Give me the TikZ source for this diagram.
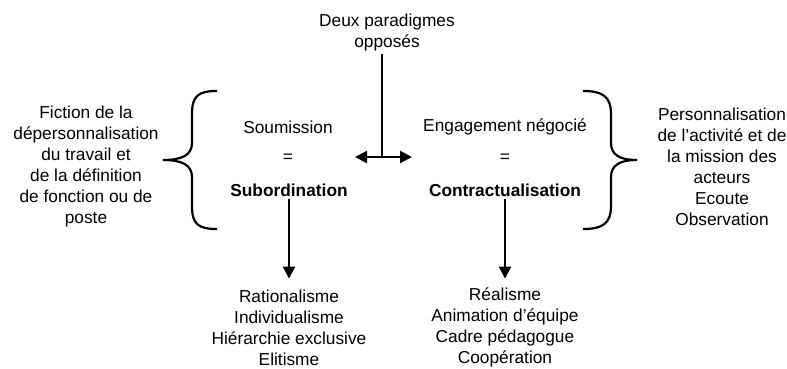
\documentclass[tikz,border=0pt]{standalone}
\usepackage{fontspec}
\setmainfont{Liberation Sans}
\usetikzlibrary{arrows.meta}

\begin{document}
\begin{tikzpicture}[x = 1pt, y = -1pt, > = {Triangle[length = 12pt, width = 12pt]},
	txt/.style = {align = center, inner sep = 2pt, font = \fontsize{17.3}{21}\selectfont},
	key/.style = {txt, font = \fontsize{17.3}{21}\selectfont\bfseries},
	link/.style = {line width = 2.2pt}]

	\useasboundingbox (0, 0) rectangle (787, 368);

	% Title and the two paradigms

	\node [txt] (title) at (387, 33) {Deux paradigmes\\opposés};

	\node [txt] (soum) at (288, 127) {Soumission};
	\node [txt] (eq1) at (288, 158) {=};
	\node [key] (subo) at (289, 190) {Subordination};

	\node [txt] (enga) at (505, 127) {Engagement négocié};
	\node [txt] (eq2) at (505, 158) {=};
	\node [key] (cont) at (505, 190) {Contractualisation};

	% Side texts

	\node [txt] (fict) at (86, 167) {Fiction de la\\dépersonnalisation\\du travail et\\de la définition\\de fonction ou de\\poste};
	\node [txt] (pers) at (722, 167) {Personnalisation\\de l’activité et de\\la mission des\\acteurs\\Ecoute\\Observation};

	% Consequences

	\node [txt, inner sep = 0pt] (ratio) at (289, 327.5) {Rationalisme\\Individualisme\\Hiérarchie exclusive\\Elitisme};
	\node [txt, inner sep = 0pt] (real) at (505, 327.5) {Réalisme\\Animation d’équipe\\Cadre pédagogue\\Coopération};

	% Connectors

	\coordinate (mid) at (382, 157);
	\coordinate (lft) at (355, 157);
	\coordinate (rgt) at (412, 157);

	\draw [link] (title.south -| mid) -- (mid);
	\draw [link, <->] (lft) -- (rgt);

	\draw [link, ->] (subo.south) -- ++ (0, 80);
	\draw [link, ->] (cont.south) -- ++ (0, 80);

	% Braces

	\begin{scope}[line width = 2.2pt]
		\draw (217, 91) .. controls (198, 91) and (192, 96) .. (192, 114) -- (192, 143)
			.. controls (192, 155) and (182, 160) .. (163, 160)
			.. controls (182, 160) and (192, 165) .. (192, 177) -- (192, 206)
			.. controls (192, 224) and (198, 229) .. (217, 229);
		\draw (583, 91) .. controls (602, 91) and (611, 96) .. (611, 114) -- (611, 143)
			.. controls (611, 155) and (620, 160) .. (637, 160)
			.. controls (620, 160) and (611, 165) .. (611, 177) -- (611, 206)
			.. controls (611, 224) and (602, 229) .. (583, 229);
	\end{scope}

\end{tikzpicture}
\end{document}
